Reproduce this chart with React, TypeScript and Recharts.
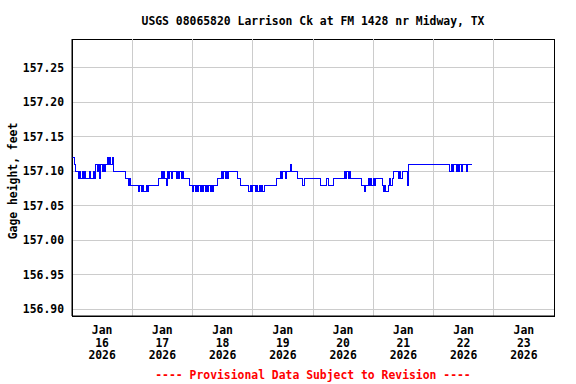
import React from 'react';
import { LineChart, Line, XAxis, YAxis, CartesianGrid, ReferenceLine, ReferenceArea } from 'recharts';

// half-hourly gage height readings, feet
const jan16 = [
  157.12, 157.12, 157.11, 157.10, 157.10, 157.09, 157.10, 157.09, 157.10, 157.09, 157.10, 157.09,
  157.09, 157.09, 157.10, 157.09, 157.09, 157.10, 157.09, 157.11, 157.10, 157.11, 157.09, 157.11,
  157.10, 157.11, 157.10, 157.11, 157.12, 157.11, 157.12, 157.11, 157.12, 157.10, 157.10, 157.10,
  157.10, 157.10, 157.10, 157.10, 157.10, 157.10, 157.10, 157.09, 157.09, 157.08, 157.09, 157.08,
];
const jan17 = [
  157.08, 157.08, 157.08, 157.08, 157.08, 157.07, 157.08, 157.07, 157.08, 157.07, 157.07, 157.08,
  157.07, 157.08, 157.08, 157.08, 157.08, 157.08, 157.08, 157.08, 157.08, 157.09, 157.09, 157.10,
  157.09, 157.10, 157.09, 157.08, 157.10, 157.09, 157.10, 157.09, 157.10, 157.10, 157.10, 157.09,
  157.10, 157.09, 157.10, 157.09, 157.10, 157.09, 157.09, 157.09, 157.09, 157.09, 157.08, 157.08,
];
const jan18 = [
  157.07, 157.08, 157.07, 157.08, 157.07, 157.08, 157.07, 157.08, 157.07, 157.08, 157.07, 157.08,
  157.07, 157.08, 157.07, 157.08, 157.07, 157.08, 157.08, 157.08, 157.09, 157.09, 157.09, 157.10,
  157.09, 157.10, 157.09, 157.10, 157.09, 157.10, 157.10, 157.10, 157.10, 157.10, 157.10, 157.10,
  157.09, 157.09, 157.08, 157.08, 157.08, 157.08, 157.08, 157.08, 157.08, 157.07, 157.08, 157.07,
];
const jan19 = [
  157.08, 157.08, 157.07, 157.08, 157.07, 157.08, 157.07, 157.08, 157.07, 157.08, 157.08, 157.08,
  157.08, 157.08, 157.08, 157.08, 157.08, 157.08, 157.08, 157.09, 157.09, 157.09, 157.10, 157.09,
  157.10, 157.10, 157.09, 157.10, 157.10, 157.10, 157.11, 157.10, 157.10, 157.10, 157.10, 157.10,
  157.09, 157.09, 157.09, 157.09, 157.08, 157.09, 157.09, 157.09, 157.09, 157.09, 157.09, 157.09,
];
const jan20 = [
  157.09, 157.09, 157.09, 157.09, 157.09, 157.09, 157.08, 157.08, 157.08, 157.08, 157.08, 157.09,
  157.08, 157.08, 157.08, 157.08, 157.09, 157.09, 157.09, 157.09, 157.09, 157.09, 157.09, 157.09,
  157.09, 157.10, 157.09, 157.10, 157.09, 157.10, 157.09, 157.09, 157.09, 157.09, 157.09, 157.09,
  157.09, 157.09, 157.09, 157.08, 157.08, 157.07, 157.08, 157.08, 157.09, 157.08, 157.09, 157.08,
];
const jan21 = [
  157.09, 157.08, 157.09, 157.09, 157.09, 157.09, 157.09, 157.08, 157.07, 157.08, 157.07, 157.07,
  157.08, 157.09, 157.08, 157.09, 157.10, 157.10, 157.10, 157.10, 157.09, 157.10, 157.09, 157.10,
  157.10, 157.10, 157.10, 157.08, 157.11, 157.11, 157.11, 157.11, 157.11, 157.11, 157.11, 157.11,
  157.11, 157.11, 157.11, 157.11, 157.11, 157.11, 157.11, 157.11, 157.11, 157.11, 157.11, 157.11,
];
const jan22 = [
  157.11, 157.11, 157.11, 157.11, 157.11, 157.11, 157.11, 157.11, 157.11, 157.11, 157.11, 157.11,
  157.11, 157.10, 157.11, 157.10, 157.11, 157.11, 157.10, 157.11, 157.10, 157.11, 157.10, 157.11,
  157.11, 157.11, 157.10, 157.11, 157.11, 157.11, 157.11, 157.11,
];

const tickDays = ['16', '17', '18', '19', '20', '21', '22', '23'];
const yTicks = [156.9, 156.95, 157.0, 157.05, 157.1, 157.15, 157.2, 157.25];

const STEPS_PER_DAY = 48;
const data = [jan16, jan17, jan18, jan19, jan20, jan21, jan22].flatMap((vals, d) =>
  vals.map((v, i) => ({ t: d * STEPS_PER_DAY + i, stage: v }))
);

const font = '"DejaVu Sans Mono", monospace';
const xTicks = tickDays.map((_, i) => i * STEPS_PER_DAY + STEPS_PER_DAY / 2);
const midnights = tickDays.slice(1).map((_, i) => (i + 1) * STEPS_PER_DAY);

const DateTick = (props: any) => {
  const { x, y, payload } = props;
  const idx = xTicks.indexOf(payload.value);
  return (
    <text x={x} textAnchor="middle" fontFamily={font} fontWeight="bold" fontSize={11.4} fill="#000">
      <tspan x={x} y={y + 18}>Jan</tspan>
      <tspan x={x} y={y + 30.5}>{tickDays[idx]}</tspan>
      <tspan x={x} y={y + 43}>2026</tspan>
    </text>
  );
};

const App = () => {
  const txt = { fontFamily: font, fontWeight: 'bold' as const, fontSize: '11.4px', position: 'absolute' as const };
  return (
    <div style={{ position: 'absolute', left: 0, top: 0, width: 576, height: 384, background: '#fff' }}>
      <div style={{ ...txt, left: 72, width: 482, top: 14, textAlign: 'center', color: '#000' }}>
        USGS 08065820 Larrison Ck at FM 1428 nr Midway, TX
      </div>
      <div style={{ ...txt, left: 13 - 80, top: 182 - 8, width: 160, textAlign: 'center', transform: 'rotate(-90deg)', color: '#000' }}>
        Gage height, feet
      </div>
      <div style={{ ...txt, left: 72, width: 482, top: 368, textAlign: 'center', color: '#ff0000' }}>
        ---- Provisional Data Subject to Revision ----
      </div>
      <LineChart width={576} height={384} data={data} margin={{ top: 39, right: 22, bottom: 0, left: 0 }}>
        <CartesianGrid vertical={false} stroke="#cccccc" shapeRendering="crispEdges" />
        {midnights.map((m) => (
          <ReferenceLine key={m} x={m} stroke="#cccccc" shapeRendering="crispEdges" />
        ))}
        <XAxis
          dataKey="t"
          type="number"
          domain={[0, STEPS_PER_DAY * 8]}
          ticks={xTicks}
          tick={<DateTick />}
          tickLine={false}
          tickSize={0}
          tickMargin={0}
          axisLine={{ stroke: '#000' }}
          height={68}
          interval={0}
        />
        <YAxis
          type="number"
          domain={[156.89, 157.292]}
          ticks={yTicks}
          allowDataOverflow
          tickFormatter={(v: number) => v.toFixed(2)}
          tick={{ fill: '#000', fontFamily: font, fontWeight: 'bold', fontSize: 11.4 }}
          tickLine={false}
          axisLine={{ stroke: '#000' }}
          width={72}
          interval={0}
        />
        <Line
          type="stepAfter"
          dataKey="stage"
          stroke="#0000ff"
          strokeWidth={1}
          dot={false}
          shapeRendering="crispEdges"
          isAnimationActive={false}
        />
        <ReferenceArea
          x1={0}
          x2={STEPS_PER_DAY * 8}
          y1={156.89}
          y2={157.292}
          fill="none"
          stroke="#000"
          strokeOpacity={1}
          shapeRendering="crispEdges"
        />
      </LineChart>
    </div>
  );
};

export default App;
